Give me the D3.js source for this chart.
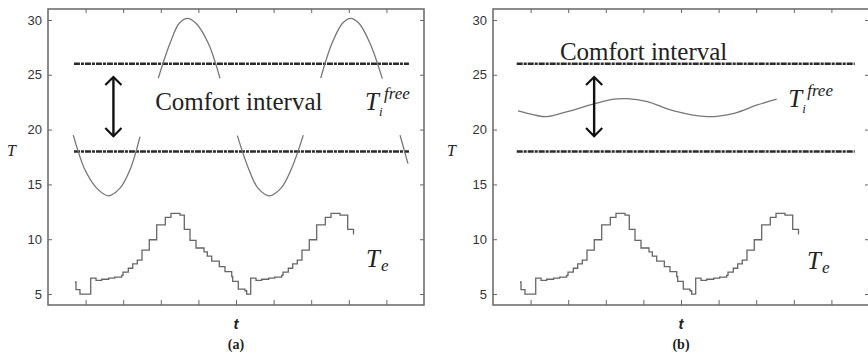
<!DOCTYPE html>
<html>
<head>
<meta charset="utf-8">
<script src="https://cdn.jsdelivr.net/npm/d3@7"></script>
<style>
  body { margin: 0; background: #fff; }
  svg { display: block; }
  .tick text { font-family: "Liberation Sans", Arial, sans-serif; font-size: 13px; fill: #333; }
  .tick line { stroke: #666; }
  .serif { font-family: "Liberation Serif", "Times New Roman", serif; fill: #222; }
</style>
</head>
<body>
<svg id="chart" width="868" height="354"></svg>
<script>
// values (t in tick units, T in degrees)
const yTicks = [5, 10, 15, 20, 25, 30];
const xTicks = [1, 2, 3, 4, 5, 6, 7, 8, 9];
const comfortBounds = [18, 26];
const comfortSpanA = [0.69, 9.6];
const comfortSpanB = [0.63, 9.62];
const arrowX = [1.74, 2.69];
const arrowRange = [19.4, 24.8];
const panelLabels = ["(a)", "(b)"];

// outdoor temperature, hourly steps
const teSteps = [
  [0.718, 6.1], [0.745, 5.4], [0.85, 5.0], [1.136, 6.45], [1.277, 6.25], [1.428, 6.35],
  [1.614, 6.45], [1.774, 6.55], [1.96, 6.7], [1.995, 7.0], [2.136, 7.35], [2.253, 7.75],
  [2.375, 8.1], [2.5, 9.0], [2.694, 9.95], [2.891, 11.3], [3.12, 12.0], [3.271, 12.35],
  [3.511, 12.2], [3.625, 10.9], [3.777, 9.9], [3.936, 9.2], [4.149, 8.85], [4.237, 8.45],
  [4.354, 8.0], [4.556, 7.5], [4.707, 7.05], [4.886, 6.6], [4.912, 6.15], [5.061, 5.45],
  [5.239, 5.3], [5.284, 5.0], [5.391, 6.45], [5.532, 6.25], [5.684, 6.35], [5.87, 6.45],
  [6.029, 6.55], [6.215, 6.7], [6.25, 7.0], [6.391, 7.35], [6.508, 7.75], [6.63, 8.1],
  [6.755, 9.0], [6.949, 9.95], [7.146, 11.3], [7.375, 12.0], [7.527, 12.35], [7.766, 12.2],
  [7.971, 10.9], [8.125, 10.5], [8.138, 10.5]
];

// free-running indoor temperature, case (a): visible pieces of the curve
const tiFreeA = [
  [[0.673, 19.5], [0.984, 16.33], [1.295, 14.66], [1.604, 13.96], [1.915, 14.66], [2.181, 16.33], [2.447, 19.36]],
  [[2.934, 24.7], [3.245, 27.87], [3.49, 29.7], [3.71, 30.15], [3.935, 29.7], [4.263, 27.87], [4.574, 24.68]],
  [[5.035, 19.45], [5.346, 16.33], [5.585, 14.66], [5.886, 13.96], [6.197, 14.66], [6.463, 16.33], [6.79, 19.5]],
  [[7.253, 24.7], [7.553, 27.87], [7.832, 29.7], [8.05, 30.15], [8.271, 29.7], [8.564, 27.87], [8.891, 24.65]],
  [[9.362, 19.5], [9.468, 18.2], [9.574, 16.9]]
];

// free-running indoor temperature, case (b)
const tiFreeB = [
  [0.665, 21.7], [1.09, 21.34], [1.444, 21.18], [1.976, 21.64], [2.686, 22.34], [3.218, 22.77],
  [3.556, 22.82], [4.104, 22.55], [4.814, 21.7], [5.699, 21.18], [6.41, 21.49], [7.029, 22.25],
  [7.545, 22.77]
];

const svg = d3.select("#chart");
const W = 376, H = 296;

const defs = svg.append("defs");
defs.append("marker")
  .attr("id", "head")
  .attr("viewBox", "0 0 20 20")
  .attr("refX", 10).attr("refY", 10)
  .attr("markerWidth", 18).attr("markerHeight", 18)
  .attr("markerUnits", "userSpaceOnUse")
  .attr("orient", "auto-start-reverse")
  .append("path")
  .attr("d", "M1,1 L10,10 L1,19")
  .attr("fill", "none")
  .attr("stroke", "#111")
  .attr("stroke-width", 2.4);

function drawPanel(left, p) {
  const g = svg.append("g").attr("transform", "translate(" + left + ",9)");

  const x = d3.scaleLinear().domain([0, 10]).range([0, W]);
  const y = d3.scaleLinear().domain([4, 31]).range([H, 0]);

  // axes with inward ticks
  g.append("g")
    .call(d3.axisLeft(y).tickValues(yTicks).tickSizeInner(-4).tickSizeOuter(0).tickPadding(6));
  g.append("g").attr("transform", "translate(" + W + ",0)")
    .call(d3.axisRight(y).tickValues(yTicks).tickSizeInner(-4).tickSizeOuter(0).tickFormat(""));
  g.append("g").attr("transform", "translate(0," + H + ")")
    .call(d3.axisBottom(x).tickValues(xTicks).tickSizeInner(-5).tickSizeOuter(0).tickFormat(""));
  g.append("g")
    .call(d3.axisTop(x).tickValues(xTicks).tickSizeInner(-4).tickSizeOuter(0).tickFormat(""));
  g.selectAll(".domain").remove();

  g.append("rect")
    .attr("width", W).attr("height", H)
    .attr("fill", "none").attr("stroke", "#666").attr("stroke-width", 1.5);

  // comfort interval bounds
  g.selectAll(".bound")
    .data(comfortBounds)
    .enter()
    .append("line")
    .attr("x1", x(p.span[0])).attr("x2", x(p.span[1]))
    .attr("y1", d => y(d)).attr("y2", d => y(d))
    .attr("stroke", "#2a2a2a")
    .attr("stroke-width", 2.6)
    .attr("stroke-dasharray", "6,1,3,1");

  const smooth = d3.line().x(d => x(d[0])).y(d => y(d[1])).curve(d3.curveCatmullRom);

  g.selectAll(".ti")
    .data(p.ti)
    .enter()
    .append("path")
    .attr("d", smooth)
    .attr("fill", "none")
    .attr("stroke", "#777")
    .attr("stroke-width", 1.3);

  const step = d3.line().x(d => x(d[0])).y(d => y(d[1])).curve(d3.curveStepAfter);
  g.append("path")
    .attr("d", step(teSteps))
    .attr("fill", "none")
    .attr("stroke", "#666")
    .attr("stroke-width", 1.3);

  // double arrow
  g.append("line")
    .attr("x1", x(p.arrow)).attr("x2", x(p.arrow))
    .attr("y1", y(arrowRange[0])).attr("y2", y(arrowRange[1]))
    .attr("stroke", "#111").attr("stroke-width", 2.4)
    .attr("marker-start", "url(#head)")
    .attr("marker-end", "url(#head)");

  // annotations
  g.append("text").attr("class", "serif")
    .attr("x", x(p.comfort[0])).attr("y", y(p.comfort[1]))
    .style("font-size", p.comfortSize + "px")
    .text("Comfort interval");

  const ti = g.append("g").attr("transform", "translate(" + x(p.tiLabel[0]) + "," + y(p.tiLabel[1]) + ")");
  ti.append("text").attr("class", "serif").style("font-style", "italic").style("font-size", "25px").text("T");
  ti.append("text").attr("class", "serif").style("font-style", "italic").style("font-size", "13px")
    .attr("x", 14).attr("y", 6).text("i");
  ti.append("text").attr("class", "serif").style("font-style", "italic").style("font-size", "17px")
    .attr("x", 19).attr("y", -11).text("free");

  const te = g.append("g").attr("transform", "translate(" + x(p.teLabel[0]) + "," + y(p.teLabel[1]) + ")");
  te.append("text").attr("class", "serif").style("font-style", "italic").style("font-size", "25px").text("T");
  te.append("text").attr("class", "serif").style("font-style", "italic").style("font-size", "17px")
    .attr("x", 15).attr("y", 4).text("e");

  g.append("text").attr("class", "serif")
    .attr("x", p.yLabelX).attr("y", y(17.6))
    .style("font-style", "italic").style("font-size", "16px")
    .text("T");

  g.append("text")
    .attr("x", x(5)).attr("y", H + 24)
    .attr("text-anchor", "middle")
    .style("font-family", "'Liberation Sans', Arial, sans-serif")
    .style("font-style", "italic").style("font-weight", "bold").style("font-size", "15px")
    .style("fill", "#222")
    .text("t");

  g.append("text").attr("class", "serif")
    .attr("x", x(5)).attr("y", H + 44)
    .attr("text-anchor", "middle")
    .style("font-weight", "bold").style("font-size", "14px")
    .text(p.label);
}

drawPanel(48, {
  span: comfortSpanA, ti: tiFreeA, arrow: arrowX[0],
  comfort: [2.85, 21.8], comfortSize: 25,
  tiLabel: [8.43, 21.8], teLabel: [8.46, 7.5],
  yLabelX: -41, label: panelLabels[0]
});
drawPanel(493, {
  span: comfortSpanB, ti: [tiFreeB], arrow: arrowX[1],
  comfort: [1.78, 26.35], comfortSize: 25,
  tiLabel: [7.85, 22.1], teLabel: [8.35, 7.3],
  yLabelX: -46, label: panelLabels[1]
});
</script>
</body>
</html>
